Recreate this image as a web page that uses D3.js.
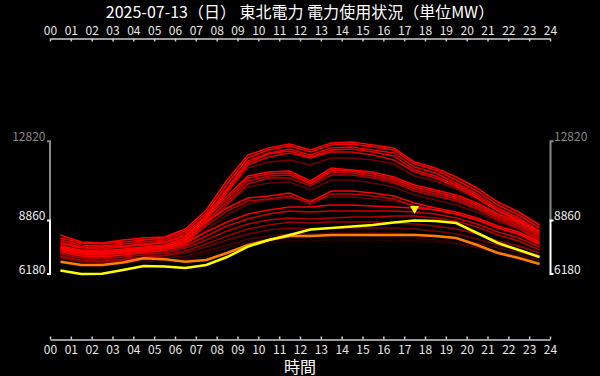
<!DOCTYPE html>
<html><head><meta charset="utf-8">
<script src="https://cdn.jsdelivr.net/npm/d3@7"></script>
<style>
html,body{margin:0;padding:0;background:#000;}
svg{display:block;font-family:"Noto Sans CJK JP","Noto Sans",sans-serif;}
</style></head><body>
<svg id="c" width="600" height="376"></svg>
<script>
const titleText = "2025-07-13（日） 東北電力 電力使用状況（単位MW）";
const xLabel = "時間";
const hourTicks = d3.range(0, 25);
const hourPoints = d3.range(0, 24).map(h => h + 0.5);
const axisTickValues = [6180, 8860, 12820];

const today = [6350,6180,6190,6380,6580,6550,6480,6630,7030,7550,7880,8130,8400,8480,8560,8630,8760,8860,8830,8730,8230,7730,7380,7030];
const yesterday = [6795,6630,6630,6755,6965,6915,6795,6880,7230,7630,7880,8080,8080,8130,8130,8130,8130,8130,8080,7980,7630,7230,6980,6680];

const pastA1 = [8130,7780,7730,7880,7980,8030,8430,9380,10880,12130,12480,12680,12380,12730,12780,12630,12480,11780,11480,11030,10480,9780,9280,8630];
const pastA2 = [7980,7730,7680,7780,7880,7980,8330,9230,10680,11980,12380,12580,12280,12630,12680,12530,12380,11680,11380,10880,10330,9630,9130,8480];
const pastA3 = [7880,7630,7580,7680,7780,7880,8230,9080,10480,11830,12230,12430,12130,12480,12530,12380,12230,11530,11230,10730,10180,9480,8980,8330];
const pastA4 = [7780,7530,7530,7580,7680,7780,8130,8980,10380,11730,12180,12330,12030,12380,12430,12280,12080,11380,11080,10630,10080,9380,8880,8280];
const pastA5 = [7680,7480,7430,7530,7630,7730,8080,8880,10280,11630,12030,12230,11980,12280,12280,12130,11880,11280,10980,10530,9980,9330,8830,8180];
const pastF1 = [7730,7530,7480,7580,7680,7780,8080,8980,10280,11480,11780,11880,11630,11980,11980,11880,11680,11080,10830,10430,9930,9330,8880,8230];
const pastB1 = [7580,7380,7330,7430,7530,7630,7980,9130,10080,11080,11280,11330,10830,11480,11380,11280,11030,10630,10380,10130,9730,9180,8780,8080];
const pastB2 = [7480,7280,7230,7330,7430,7530,7880,8980,9930,10980,11180,11230,10730,11380,11330,11180,10930,10530,10280,10030,9630,9080,8680,7980];
const pastB3 = [7380,7180,7130,7230,7380,7480,7780,8830,9780,10830,11080,11130,10680,11280,11230,11080,10830,10430,10180,9930,9530,8980,8580,7880];
const pastB4 = [7280,7080,7030,7130,7280,7380,7680,8680,9630,10680,10980,10980,10580,11130,11130,10980,10730,10330,10080,9830,9430,8880,8480,7780];
const pastF2 = [7480,7280,7230,7330,7430,7530,7830,8780,9730,10530,10730,10780,10380,10880,10880,10730,10530,10130,9880,9630,9280,8780,8430,7880];
const pastC1 = [7530,7330,7280,7380,7480,7580,7880,8780,9480,9980,10080,10230,9780,10330,10330,10230,10080,9730,9480,9280,8980,8580,8280,7780];
const pastC2 = [7380,7180,7130,7230,7330,7430,7730,8580,9330,9830,9930,10080,9680,10180,10180,10080,9930,9580,9380,9180,8880,8480,8180,7680];
const pastF3 = [7330,7130,7080,7180,7280,7380,7630,8380,9130,9680,9880,9980,9880,10030,10030,9930,9830,9580,9380,9180,8880,8480,8130,7630];
const pastD1 = [7430,7230,7180,7280,7380,7480,7730,8280,8780,9180,9380,9530,9530,9630,9630,9580,9530,9480,9380,9180,8880,8480,8180,7680];
const pastD2 = [7280,7080,7030,7130,7230,7330,7580,8080,8580,8930,9180,9330,9280,9330,9330,9330,9330,9280,9180,8980,8680,8280,7980,7530];
const pastD3 = [7180,6980,6930,7030,7130,7230,7480,7880,8330,8680,8880,8980,8930,8980,9030,9030,9080,9080,8980,8830,8530,8130,7830,7380];
const pastD4 = [7080,6880,6830,6930,7030,7130,7330,7680,8080,8430,8630,8780,8730,8780,8780,8780,8730,8680,8580,8430,8180,7830,7580,7230];
const pastD5 = [7030,6830,6780,6880,6980,7080,7230,7530,7880,8180,8380,8480,8430,8480,8480,8480,8480,8430,8330,8180,7930,7630,7380,7080];
const pastD6 = [6980,6780,6730,6830,6930,6980,7080,7330,7630,7930,8080,8180,8180,8230,8230,8230,8230,8180,8080,7930,7730,7480,7280,6980];
const pastE2 = [6880,6680,6630,6730,6830,6880,6980,7180,7480,7780,7930,8030,8030,8080,8080,8080,8030,7980,7880,7730,7530,7280,7130,6880];
const pastE1 = [6780,6580,6580,6680,6780,6830,6880,7030,7280,7580,7730,7830,7830,7880,7880,7880,7830,7830,7780,7680,7480,7230,7080,6830];

const pastDays = [pastE1,pastE2,pastD6,pastD5,pastD4,pastD3,pastF3,pastF2,pastF1,pastD2,pastC2,pastB4,pastB3,pastA5,pastA4,pastD1,pastC1,pastB2,pastB1,pastA3,pastA2,pastA1];
const pastOpacity = [0.15,0.2,0.3,0.45,0.6,0.7,0.4,0.4,0.45,0.8,0.7,0.7,0.8,0.85,0.9,0.95,1,0.9,1,0.9,0.95,1];

const svg = d3.select("#c");
svg.append("rect").attr("width",600).attr("height",376).attr("fill","#000");

const x = d3.scaleLinear().domain([0,24]).range([50,550]);
const y = d3.scaleLinear().domain([6180,12820]).range([274,141.2]);

const line = d3.line().x((d,i)=>x(hourPoints[i])).y(d=>y(d));

const g = svg.append("g");
pastDays.forEach((s,k)=>{
  g.append("path").attr("d",line(s)).attr("fill","none")
   .attr("stroke","#ff0000").attr("stroke-opacity",pastOpacity[k]).attr("stroke-width",1.5);
});
g.append("path").attr("d",line(yesterday)).attr("fill","none").attr("stroke","#ff8000").attr("stroke-width",2.5);
g.append("path").attr("d",line(today)).attr("fill","none").attr("stroke","#ffff00").attr("stroke-width",2.5);

// peak marker
const peakIdx = d3.maxIndex(today);
const px = x(hourPoints[peakIdx]), py = y(today[peakIdx]);
g.append("path").attr("d",`M${px-4.5},${py-14.5}L${px+4.5},${py-14.5}L${px},${py-6.5}Z`).attr("fill","#ffff00");

// hour axes
const fmt = d => String(d).padStart(2,"0");
const axTop = svg.append("g").attr("transform","translate(0,38.5)")
  .call(d3.axisTop(x).tickValues(hourTicks).tickFormat(fmt).tickSizeInner(-3).tickSizeOuter(0).tickPadding(3.5));
const axBot = svg.append("g").attr("transform","translate(0,339.5)")
  .call(d3.axisBottom(x).tickValues(hourTicks).tickFormat(fmt).tickSizeInner(-3).tickSizeOuter(0).tickPadding(6));
[axTop,axBot].forEach(a=>{
  a.selectAll("path,line").attr("stroke","#ccc").attr("stroke-width",1.5);
  a.selectAll("text").attr("fill","#e8e8e8").attr("font-size",12).attr("font-family",'"Noto Sans CJK JP"');
});

// value axes (bracket style)
function valueAxis(ax, dir){
  const [vMin, vMid, vMax] = axisTickValues;
  const t0 = ax - 3*dir, t1 = ax + 1*dir;
  svg.append("path").attr("d",`M${t0},${y(vMax)}H${t1}M${ax},${y(vMax)}V${y(vMid)}`)
    .attr("stroke","#8a8a8a").attr("stroke-width",2).attr("fill","none");
  svg.append("path").attr("d",`M${t0},${y(vMid)}H${t1}M${ax},${y(vMid)}V${y(vMin)}M${t0},${y(vMin)}H${t1}`)
    .attr("stroke","#ffffff").attr("stroke-width",2).attr("fill","none");
  const lx = dir===1 ? ax-4.5 : ax+3.5;
  const anchor = dir===1 ? "end" : "start";
  axisTickValues.forEach(v=>{
    svg.append("text").attr("x",lx).attr("y",y(v)).attr("text-anchor",anchor)
      .attr("font-size",12).attr("fill", v===vMax ? "#8a8a8a" : "#f0f0f0").text(v);
  });
}
valueAxis(50, 1);
valueAxis(550.5, -1);

svg.append("text").attr("x",300).attr("y",18).attr("text-anchor","middle")
  .attr("font-size",16).attr("fill","#fff").text(titleText);
svg.append("text").attr("x",300).attr("y",373).attr("text-anchor","middle")
  .attr("font-size",16).attr("fill","#fff").text(xLabel);
</script>
</body></html>
